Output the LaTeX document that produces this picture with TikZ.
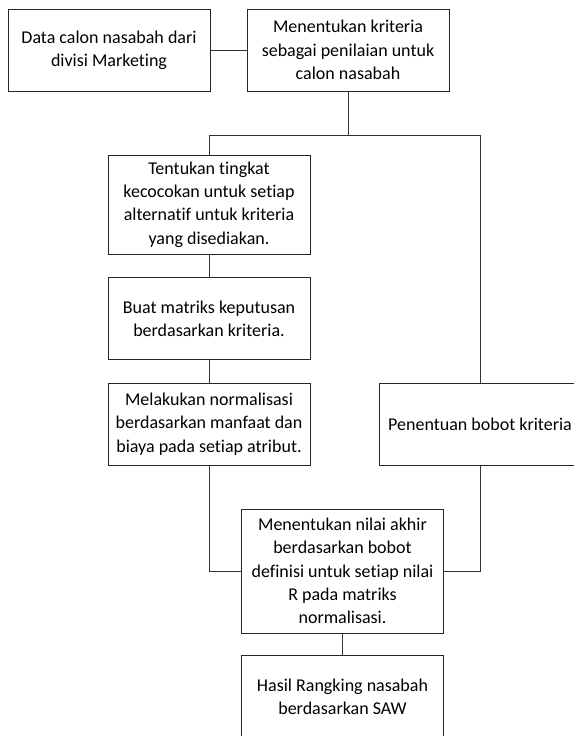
\documentclass[tikz,border=0pt]{standalone}
\usepackage{fontspec}
\setmainfont{Carlito}[Ligatures=NoCommon]
\usetikzlibrary{positioning}

\tikzset{
  stepbox/.style={draw=black!85, line width=0.75pt, minimum width=151.5pt,
    minimum height=61.5pt, align=center, inner sep=2pt,
    font=\fontsize{13.5}{17.5}\selectfont},
  tallbox/.style={stepbox, minimum height=74.25pt},
  finalbox/.style={stepbox, minimum height=93pt},
  link/.style={draw=black!80, line width=0.75pt}
}

\begin{document}
\begin{tikzpicture}[x=0.75pt,y=-0.75pt]
  \useasboundingbox (0,0) rectangle (574,736);
  % top row
  \node[stepbox] (data) at (109,50) {Data calon nasabah dari\\divisi Marketing};
  \node[stepbox] (krit) at (348,50) {Menentukan kriteria\\sebagai penilaian untuk\\calon nasabah};
  % left column
  \node[tallbox] (cocok) at (209,204.5) {Tentukan tingkat\\kecocokan untuk setiap\\alternatif untuk kriteria\\yang disediakan.};
  \node[stepbox] (matriks) at (209,318.5) {Buat matriks keputusan\\berdasarkan kriteria.};
  \node[stepbox] (norm) at (209,424) {Melakukan normalisasi\\berdasarkan manfaat dan\\biaya pada setiap atribut.};
  % right column
  \node[stepbox] (bobot) at (480,424) {Penentuan bobot kriteria};
  % bottom
  \node[finalbox] (akhir) at (342.5,571) {Menentukan nilai akhir\\berdasarkan bobot\\definisi untuk setiap nilai\\R pada matriks\\normalisasi.};
  \node[stepbox] (hasil) at (342.5,696.7) {Hasil Rangking nasabah\\berdasarkan SAW};

  \draw[link] (data) -- (krit);
  \draw[link] (krit.south) -- ++(0,44) coordinate (split);
  \draw[link] (cocok.north) |- (split) -| (bobot.north);
  \draw[link] (cocok) -- (matriks);
  \draw[link] (matriks) -- (norm);
  \draw[link] (norm.south) |- (akhir.west);
  \draw[link] (bobot.south) |- (akhir.east);
  \draw[link] (akhir) -- (hasil);
\end{tikzpicture}
\end{document}
